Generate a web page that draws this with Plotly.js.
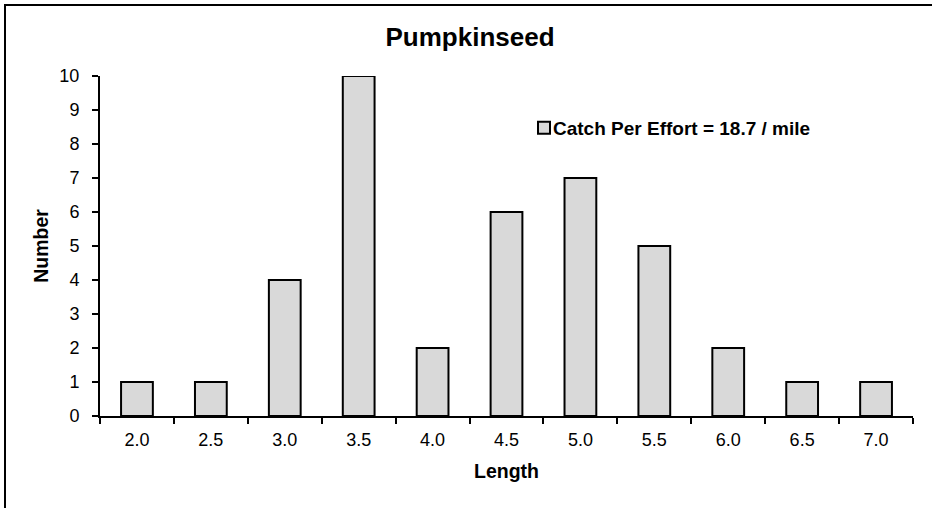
<!DOCTYPE html>
<html>
<head>
<meta charset="utf-8">
<script src="https://cdn.plot.ly/plotly-3.0.1.min.js"></script>
<style>html,body{margin:0;padding:0;background:#fff;}#chart{width:932px;height:508px;}</style>
</head>
<body>
<div id="chart"></div>
<script>
const lengths = ["2.0","2.5","3.0","3.5","4.0","4.5","5.0","5.5","6.0","6.5","7.0"];
const counts = [1,1,4,10,2,6,7,5,2,1,1];
const seriesName = "Catch Per Effort = 18.7 / mile";
const chartTitle = "Pumpkinseed";
const xTitle = "Length";
const yTitle = "Number";

const W = 932, H = 508, L = 100, R = 19, T = 76, B = 92;
const pw = W - L - R, ph = H - T - B;
const px = v => (v - L) / pw;
const py = v => (H - B - v) / ph;
const FONT = 'Liberation Sans, Arial, sans-serif';

const trace = {
  type: 'bar', x: lengths, y: counts, name: '<b>' + seriesName + '</b>', showlegend: true,
  marker: {color: '#d9d9d9', line: {color: '#000', width: 2}}
};
const layout = {
  width: W, height: H,
  margin: {l: L, r: R, t: T, b: B, pad: 0},
  paper_bgcolor: '#fff', plot_bgcolor: '#fff',
  font: {family: FONT, color: '#000', size: 18},
  title: {text: '<b>' + chartTitle + '</b>', font: {size: 26}, x: px(470), xanchor: 'center', xref: 'paper', y: 1 - 37 / H, yanchor: 'middle'},
  bargap: 0.57,
  xaxis: {
    type: 'category', showline: true, linecolor: '#000', linewidth: 2,
    ticks: 'outside', tickson: 'boundaries', ticklen: 6, tickwidth: 2, tickcolor: '#000',
    showgrid: false, zeroline: false, ticklabelstandoff: 6,
    tickfont: {size: 18},
    title: {text: '<b>' + xTitle + '</b>', font: {size: 19.5}, standoff: 16}
  },
  yaxis: {
    range: [0, 10], dtick: 1, showline: true, linecolor: '#000', linewidth: 2,
    ticks: 'outside', ticklen: 6, tickwidth: 2, tickcolor: '#000', ticklabelstandoff: 9,
    showgrid: false, zeroline: false, tickfont: {size: 18},
    title: {text: '<b>' + yTitle + '</b>', font: {size: 19.5}, standoff: 6}
  },
  showlegend: true,
  legend: {x: px(524), y: py(128), xanchor: 'left', yanchor: 'middle', bgcolor: 'rgba(0,0,0,0)',
    font: {size: 19, family: FONT}, itemwidth: 30, tracegroupgap: 0},
  shapes: [{type: 'rect', xref: 'paper', yref: 'paper', x0: px(5), x1: px(960), y0: py(540), y1: py(5),
    line: {color: '#000', width: 2}, fillcolor: 'rgba(0,0,0,0)', layer: 'below'}]
};
Plotly.newPlot('chart', [trace], layout, {displayModeBar: false, staticPlot: true}).then(() => {
  // tighten gap between legend swatch and its label, like the reference
  document.querySelectorAll('.legend .legendtext').forEach(t => t.setAttribute('x', 29));
});
</script>
</body>
</html>
